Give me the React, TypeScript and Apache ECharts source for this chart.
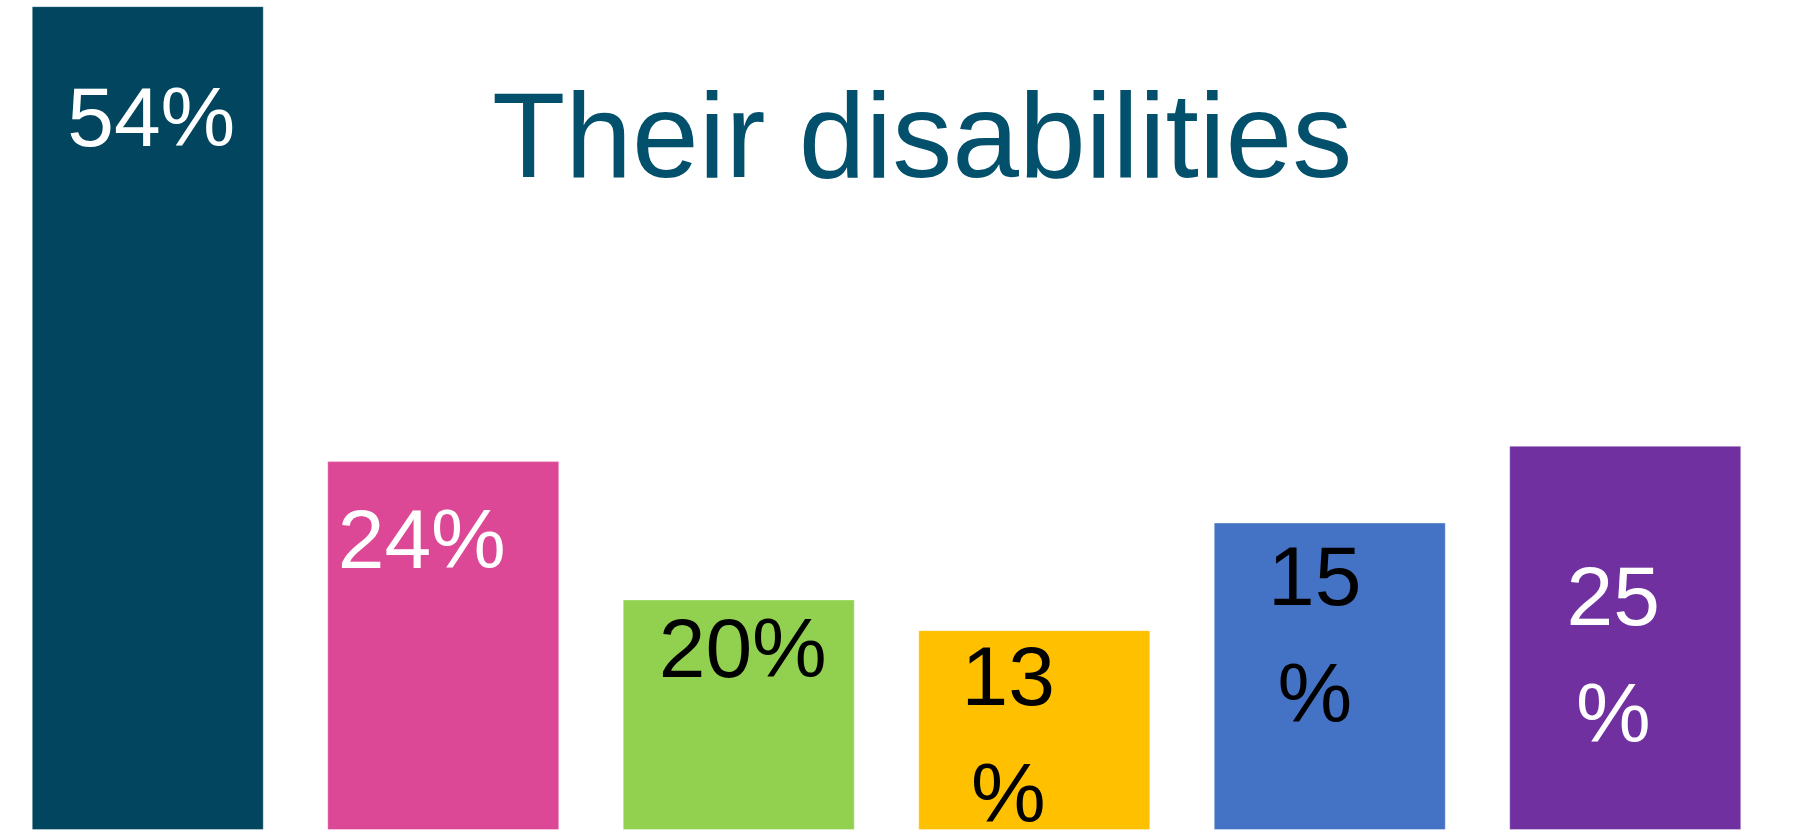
import React, { useEffect, useRef } from "react";
import * as echarts from "echarts";

// ---- data ----
const titleText = "Their disabilities";
const categories = ["Group 1", "Group 2", "Group 3", "Group 4", "Group 5", "Group 6"];
const barValues = [53.6, 24, 15, 13, 20, 25];
const labelTexts = ["54%", "24%", "20%", "13\n%", "15\n%", "25\n%"];

// ---- styles ----
const barColors = ["#01465E", "#DC4896", "#92D050", "#FFC000", "#4472C4", "#7030A0"];
const labelColors = ["#FFFFFF", "#FFFFFF", "#000000", "#000000", "#000000", "#FFFFFF"];
// label block centre relative to the bar's top-left corner
const labelOffsets: [number, number][] = [
  [119.5, 110.8],
  [94.5, 77.4],
  [120, 48.6],
  [90, 83.8],
  [101, 91.4],
  [104, 188.3],
];

export default function App() {
  const ref = useRef<HTMLDivElement>(null);

  useEffect(() => {
    if (!ref.current) return;
    const chart = echarts.init(ref.current, undefined, { renderer: "svg" });
    const font = "'Liberation Sans', Arial, Helvetica, sans-serif";
    chart.setOption({
      animation: false,
      backgroundColor: "#FFFFFF",
      title: {
        text: titleText,
        left: 492,
        top: 75,
        padding: 0,
        textStyle: {
          fontFamily: font,
          fontSize: 120,
          fontWeight: "normal",
          color: "#02506B",
        },
      },
      grid: { left: -2, width: 1775, top: 0, bottom: 3, containLabel: false },
      xAxis: {
        type: "category",
        data: categories,
        show: false,
      },
      yAxis: { type: "value", min: 0, max: 54, show: false },
      series: [
        {
          type: "bar",
          barWidth: 232,
          data: barValues.map((v, i) => {
            const parts = labelTexts[i].split("\n");
            const color = labelColors[i];
            const formatter =
              parts.length > 1 ? `{a|${parts[0]}}\n{b|${parts[1]}}` : labelTexts[i];
            return {
              value: v,
              itemStyle: {
                color: barColors[i],
                borderColor: "rgba(255,255,255,0.35)",
                borderWidth: 1,
              },
              label: {
                show: true,
                formatter,
                position: labelOffsets[i],
                align: "center",
                verticalAlign: "middle",
                color,
                fontFamily: font,
                fontSize: 84,
                lineHeight: 100,
                rich: {
                  a: { color, fontFamily: font, fontSize: 84, lineHeight: 158 },
                  b: { color, fontFamily: font, fontSize: 84, lineHeight: 76 },
                },
              },
            };
          }),
        },
      ],
    });
    return () => chart.dispose();
  }, []);

  return (
    <div
      ref={ref}
      style={{ position: "fixed", left: 0, top: 0, width: 1806, height: 833, background: "#fff" }}
    />
  );
}
